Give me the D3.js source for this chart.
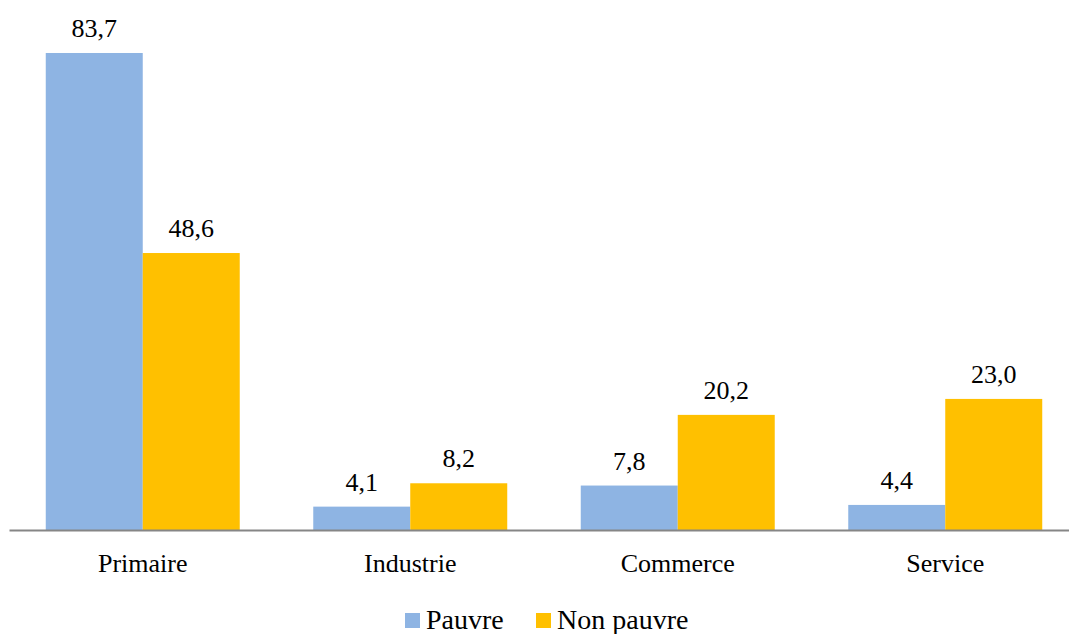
<!DOCTYPE html>
<html>
<head>
<meta charset="utf-8">
<script src="https://cdn.jsdelivr.net/npm/d3@7"></script>
<style>
  svg text { font-family: 'Liberation Serif', 'Times New Roman', Tinos, serif !important; }
</style>
</head>
<body style="margin:0; background:#ffffff; overflow:hidden">
<script>
// chart data
const categories = ["Primaire", "Industrie", "Commerce", "Service"];
const seriesNames = ["Pauvre", "Non pauvre"];
const pauvre = [83.7, 4.1, 7.8, 4.4];
const nonPauvre = [48.6, 8.2, 20.2, 23.0];
const colors = ["#8EB4E3", "#FFC000"];

const width = 1069, height = 634;
const baseY = 530;
const fontFam = "'Liberation Serif', 'Times New Roman', Tinos, serif";

const svg = d3.select("body").append("svg")
  .attr("width", width)
  .attr("height", height)
  .style("display", "block");

// x scale: categories spread a bit past the right edge, like the original
const x = d3.scaleBand()
  .domain(categories)
  .range([9, 1079])
  .paddingInner(0)
  .paddingOuter(0);

// bars inside each category, gap of ~37px either side
const x1 = d3.scaleBand()
  .domain(seriesNames)
  .range([0, x.bandwidth()])
  .paddingInner(0)
  .paddingOuter(0.379);

const y = d3.scaleLinear()
  .domain([0, 90])
  .range([baseY, baseY - 90 * 5.699]);

const rows = categories.map((c, i) => ({ cat: c, values: [pauvre[i], nonPauvre[i]] }));

const groups = svg.selectAll(".grp")
  .data(rows)
  .enter().append("g")
  .attr("class", "grp")
  .attr("transform", d => "translate(" + x(d.cat) + ",0)");

// bars
groups.selectAll("rect")
  .data(d => d.values.map((v, j) => ({ name: seriesNames[j], v: v, j: j })))
  .enter().append("rect")
  .attr("x", d => x1(d.name))
  .attr("y", d => y(d.v))
  .attr("width", x1.bandwidth())
  .attr("height", d => baseY - y(d.v))
  .style("fill", d => colors[d.j]);

// value labels
groups.selectAll(".val")
  .data(d => d.values.map((v, j) => ({ name: seriesNames[j], v: v })))
  .enter().append("text")
  .attr("class", "val")
  .attr("x", d => x1(d.name) + x1.bandwidth() / 2)
  .attr("y", d => y(d.v) - 16)
  .attr("text-anchor", "middle")
  .style("font-family", fontFam, "important")
  .style("font-size", "26px")
  .text(d => d.v.toFixed(1).replace(".", ","));

// axis baseline
const xAxis = d3.axisBottom(x).tickSize(0).tickPadding(0);
const axisG = svg.append("g")
  .attr("transform", "translate(0," + baseY + ")")
  .call(xAxis)
  .attr("font-family", null)
  .attr("font-size", null);
axisG.select(".domain")
  .attr("stroke", "#868686")
  .attr("stroke-width", 2);
axisG.selectAll("text")
  .attr("dy", null)
  .attr("y", 42)
  .style("font-family", fontFam, "important")
  .style("font-size", "26px")
  .attr("fill", "#000");

// legend
const legend = svg.append("g").attr("class", "legend");
const legendX = [405, 536];
seriesNames.forEach((n, i) => {
  legend.append("rect")
    .attr("x", legendX[i])
    .attr("y", 613)
    .attr("width", 15)
    .attr("height", 15)
    .style("fill", colors[i]);
  legend.append("text")
    .attr("x", legendX[i] + 21)
    .attr("y", 629)
    .style("font-family", fontFam, "important")
    .style("font-size", "28px")
    .text(n);
});
</script>
</body>
</html>
